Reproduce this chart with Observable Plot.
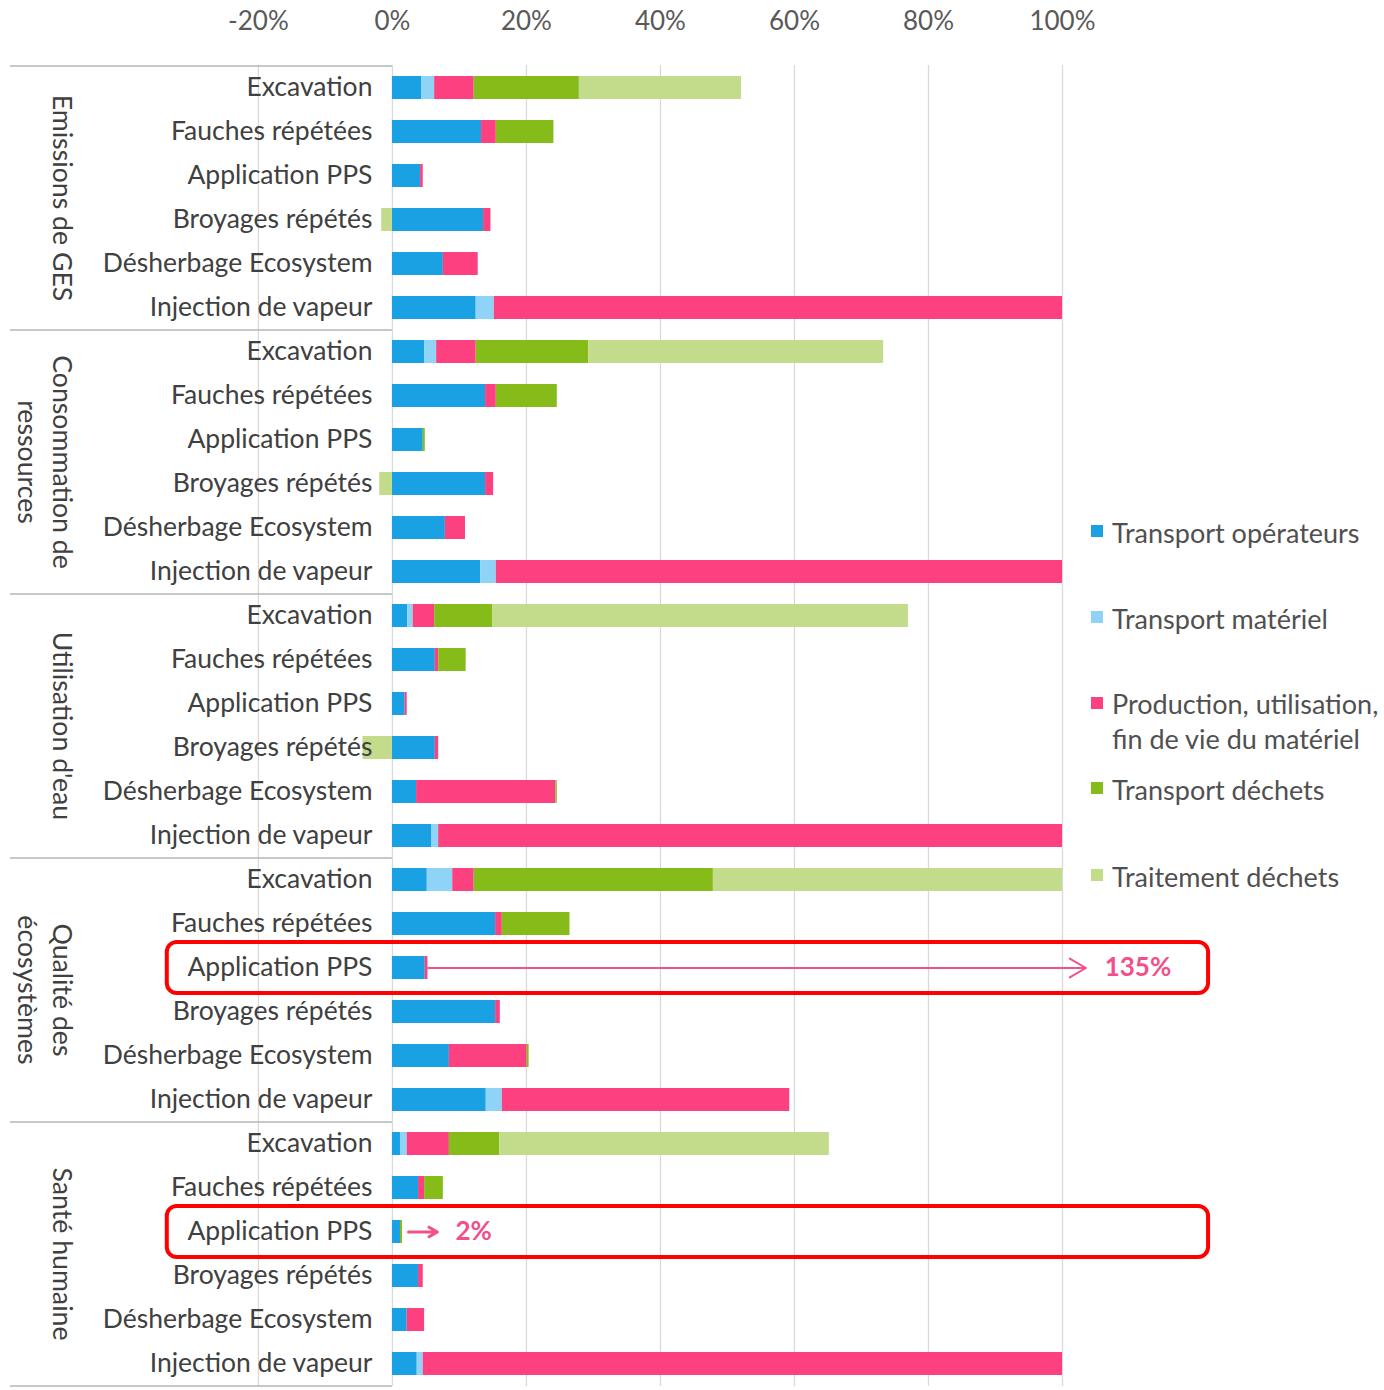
<!DOCTYPE html>
<html><head><meta charset="utf-8">
<script src="https://cdn.jsdelivr.net/npm/d3@7"></script>
<script src="https://cdn.jsdelivr.net/npm/@observablehq/plot@0.6"></script>
<style>
body{margin:0;background:#fff;font-family:Lato,sans-serif;}
#wrap{position:relative;width:1384px;height:1390px;overflow:hidden;}
#legend{position:absolute;left:0;top:0;width:1384px;height:1390px;pointer-events:none;}
.li{position:absolute;left:1091px;font-size:27px;color:#505050;line-height:30px;white-space:nowrap;}
.li .sw{display:inline-block;width:12px;height:12px;margin-right:9px;vertical-align:middle;position:relative;top:-2px;}
.li .t{display:inline-block;vertical-align:middle;}
</style></head><body><div id="wrap"></div>
<script>
const groups = ["Emissions de GES", "Consommation de\nressources", "Utilisation d'eau", "Qualité des\nécosystèmes", "Santé humaine"];
const methods = ["Excavation", "Fauches répétées", "Application PPS", "Broyages répétés", "Désherbage Ecosystem", "Injection de vapeur"];
const series = ["Transport opérateurs", "Transport matériel", "Production, utilisation, fin de vie du matériel", "Transport déchets", "Traitement déchets"];
const legendLines = [["Transport opérateurs"], ["Transport matériel"], ["Production, utilisation,", "fin de vie du matériel"], ["Transport déchets"], ["Traitement déchets"]];
const colors = ["#1aa1e4", "#8fd3f6", "#fd407f", "#86bc1a", "#c3dc8c"];

// values in % (rows: group x method, in display order)
const transportOperateurs = [4.4, 13.3, 4.2, 13.6, 7.6, 12.5,  4.8, 13.9, 4.6, 13.9, 7.9, 13.2,  2.3, 6.4, 1.9, 6.4, 3.6, 5.9,  5.2, 15.4, 4.9, 15.4, 8.5, 14.0,  1.2, 3.9, 1.2, 3.9, 2.2, 3.7];
const transportMateriel   = [1.9, 0, 0, 0, 0, 2.7,  1.8, 0, 0, 0, 0, 2.3,  0.8, 0, 0, 0, 0, 1.0,  3.8, 0, 0, 0, 0, 2.4,  1.0, 0, 0, 0, 0, 0.9];
const productionMateriel  = [5.9, 2.2, 0.4, 1.1, 5.2, 84.8,  5.9, 1.6, 0, 1.2, 3.0, 84.5,  3.2, 0.5, 0.3, 0.5, 20.8, 93.1,  3.2, 1.0, 0.4, 0.7, 11.6, 42.9,  6.3, 0.9, 0, 0.7, 2.6, 95.4];
const transportDechets    = [15.7, 8.6, 0, 0, 0, 0,  16.8, 9.1, 0.3, 0, 0, 0,  8.7, 4.1, 0, 0, 0.2, 0,  35.7, 10.1, 0, 0, 0.3, 0,  7.5, 2.8, 0.3, 0, 0, 0];
const traitementDechets   = [24.2, 0, 0, -1.6, 0, 0,  44.0, 0, 0, -1.9, 0, 0,  62.0, 0, 0, -4.4, 0, 0,  52.1, 0, 0, 0, 0, 0,  49.2, 0, 0, 0, 0, 0];
const xTicks = [-20, 0, 20, 40, 60, 80, 100];
const xMin = -57;

// annotations
const annot135 = {group: 3, method: "Application PPS", barEnd: 5.3, arrowEnd: 103.5, label: "135%", labelAt: 106.3, boxFrom: -33.6, boxTo: 121.8};
const annot2 = {group: 4, method: "Application PPS", arrowStart: 2.4, arrowEnd: 6.7, label: "2%", labelAt: 9.4, boxFrom: -33.6, boxTo: 121.8};

const keyOf = (gi, m) => gi + "|" + m;
const keys = groups.flatMap((g, gi) => methods.map(m => keyOf(gi, m)));
const seriesValues = [transportOperateurs, transportMateriel, productionMateriel, transportDechets, traitementDechets];
const table = [];
keys.forEach((k, i) => series.forEach((s, si) => table.push({key: k, series: s, value: seriesValues[si][i]})));
const groupStarts = groups.map((g, gi) => keyOf(gi, methods[0]));
const groupMids = groups.map((g, gi) => ({key: keyOf(gi, methods[2]), label: g}));
const lastKey = keys[keys.length - 1];

const pink = "#f2508b";
const a1 = [{y: keyOf(annot135.group, annot135.method), ...annot135}];
const a2 = [{y: keyOf(annot2.group, annot2.method), ...annot2}];

const chart = Plot.plot({
  width: 1384, height: 1390,
  marginTop: 65, marginBottom: 4, marginLeft: 10, marginRight: 322,
  style: {fontFamily: "Lato, sans-serif", fontSize: "27px", color: "#505050", background: "white", overflow: "visible"},
  x: {domain: [xMin, 100], axis: null},
  y: {domain: keys, paddingInner: 0.47, paddingOuter: 0.235, axis: null},
  color: {domain: series, range: colors},
  marks: [
    Plot.gridX(xTicks, {stroke: "#d9d9d9", strokeOpacity: 1, strokeWidth: 1.3}),
    Plot.axisX(xTicks, {anchor: "top", tickSize: 0, tickPadding: 36, tickFormat: d => d + "%", fill: "#595959", fontSize: 26}),
    Plot.ruleY(groupStarts, {y: d => d, x1: xMin, x2: 0, dy: -22, stroke: "#b5b5b5", strokeOpacity: 1, strokeWidth: 1.5}),
    Plot.ruleY([lastKey], {y: d => d, x1: xMin, x2: 0, dy: 22, stroke: "#b5b5b5", strokeOpacity: 1, strokeWidth: 1.5}),
    Plot.barX(table, Plot.stackX({x: "value", y: "key", fill: "series", order: null})),
    Plot.text(keys, {x: 0, y: d => d, text: d => d.split("|")[1], dx: -20, textAnchor: "end", fill: "#404040", fontSize: 26.5}),
    Plot.text(groupMids, {frameAnchor: "left", y: "key", dy: 22, dx: 67, rotate: 90, lineAnchor: "top", textAnchor: "middle", lineHeight: 1.3, text: "label", fill: "#404040", fontSize: 26.7}),
    // annotation 135%
    Plot.barX(a1, {x1: "boxFrom", x2: "boxTo", y: "y", fill: "none", stroke: "#ff0000", strokeWidth: 4, rx: 10, insetTop: -14, insetBottom: -14}),
    Plot.arrow(a1, {x1: "barEnd", x2: "arrowEnd", y1: "y", y2: "y", stroke: pink, strokeWidth: 2, headLength: 14}),
    Plot.text(a1, {x: "labelAt", y: "y", text: "label", textAnchor: "start", fill: pink, fontWeight: "bold", fontSize: 26}),
    // annotation 2%
    Plot.barX(a2, {x1: "boxFrom", x2: "boxTo", y: "y", fill: "none", stroke: "#ff0000", strokeWidth: 4, rx: 10, insetTop: -14, insetBottom: -14}),
    Plot.arrow(a2, {x1: "arrowStart", x2: "arrowEnd", y1: "y", y2: "y", stroke: pink, strokeWidth: 3, headLength: 12}),
    Plot.text(a2, {x: "labelAt", y: "y", text: "label", textAnchor: "start", fill: pink, fontWeight: "bold", fontSize: 26})
  ]
});
const wrap = document.getElementById("wrap");
wrap.appendChild(chart);

// legend
const legend = document.createElement("div");
legend.id = "legend";
const tops = [515, 601, 686, 772, 859];
legendLines.forEach((lines, i) => {
  const it = document.createElement("div");
  it.className = "li";
  it.style.top = tops[i] + "px";
  it.innerHTML = `<span class="sw" style="background:${colors[i]}"></span><span class="t">${lines.join("<br>")}</span>`;
  if (lines.length > 1) { it.style.lineHeight = "35px"; it.querySelector(".sw").style.verticalAlign = "top"; it.querySelector(".sw").style.top = "11px"; }
  legend.appendChild(it);
});
wrap.appendChild(legend);
</script></body></html>
